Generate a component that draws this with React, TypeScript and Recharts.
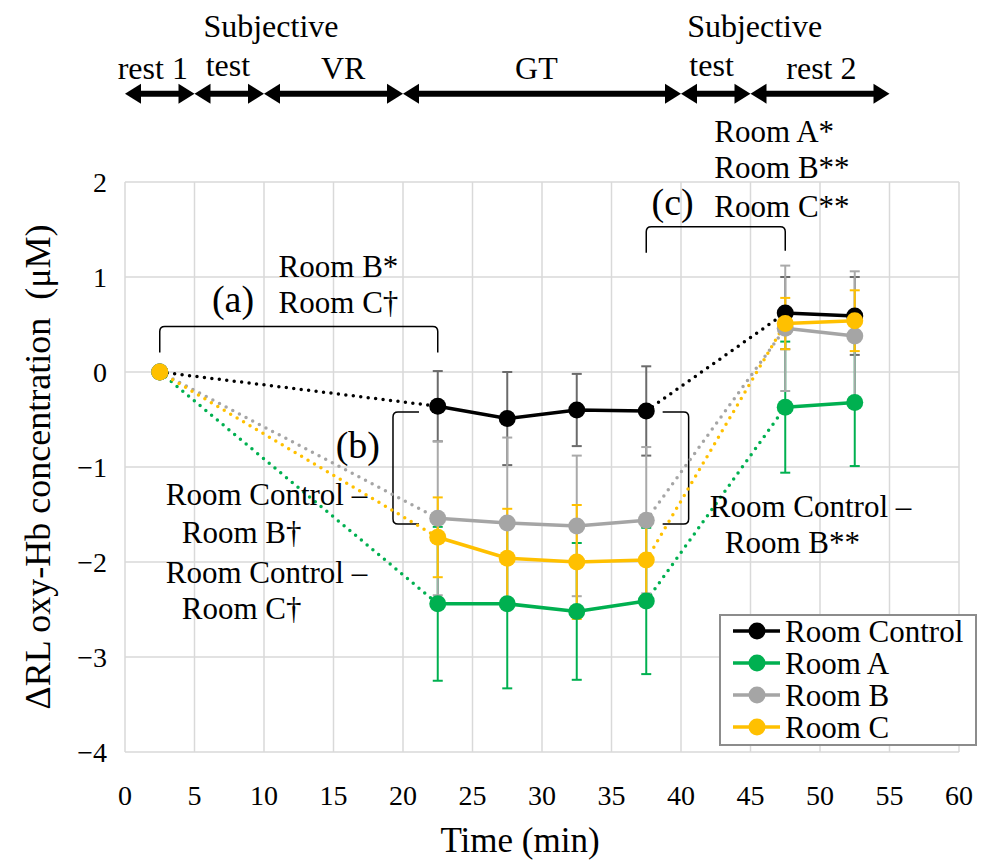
import React from 'react';
import {
  LineChart,
  Line,
  XAxis,
  YAxis,
  CartesianGrid,
  ErrorBar,
  ReferenceLine,
  ReferenceDot,
  Legend,
} from 'recharts';

const FONT = 'Liberation Serif, Times New Roman, serif';

// measurement times (min), one value per series at each
const TIMES = [2.5, 22.5, 27.5, 32.5, 37.5, 47.5, 52.5];

const ROOM_CONTROL = [0, -0.36, -0.49, -0.4, -0.41, 0.62, 0.59];
const ROOM_CONTROL_ERR = [null, 0.37, 0.49, 0.38, 0.47, 0.38, 0.41];
const ROOM_A = [0, -2.44, -2.44, -2.52, -2.41, -0.37, -0.32];
const ROOM_A_ERR = [null, 0.81, 0.89, 0.72, 0.77, 0.69, 0.67];
const ROOM_B = [0, -1.54, -1.59, -1.62, -1.56, 0.46, 0.38];
const ROOM_B_ERR = [null, 0.81, 0.9, 0.74, 0.77, 0.66, 0.68];
const ROOM_C = [0, -1.74, -1.96, -2.0, -1.98, 0.51, 0.54];
const ROOM_C_ERR = [null, 0.42, 0.52, 0.6, 0.45, 0.27, 0.32];

const X_TICKS = [0, 5, 10, 15, 20, 25, 30, 35, 40, 45, 50, 55, 60];
const Y_TICKS = [-4, -3, -2, -1, 0, 1, 2];

// experiment phases shown above the plot (min)
const PHASE_BOUNDS = [0, 5, 10, 20, 40, 45, 55];

const SERIES = [
  { key: 'ctl', name: 'Room Control', color: '#000000', errColor: '#6b6b6b', values: ROOM_CONTROL, errors: ROOM_CONTROL_ERR },
  { key: 'a', name: 'Room A', color: '#00B050', errColor: '#00B050', values: ROOM_A, errors: ROOM_A_ERR },
  { key: 'b', name: 'Room B', color: '#A5A5A5', errColor: '#A9A9A9', values: ROOM_B, errors: ROOM_B_ERR },
  { key: 'c', name: 'Room C', color: '#FFC000', errColor: '#FFC000', values: ROOM_C, errors: ROOM_C_ERR },
];

const data = TIMES.map((t, i) => {
  const row: Record<string, number | null> = { t };
  SERIES.forEach((s) => {
    const v = s.values[i];
    row[s.key] = v;
    row[s.key + 'Err'] = s.errors[i];
    row[s.key + 'Pre'] = i <= 1 ? v : null; // rest 1 -> first GT point (dotted)
    row[s.key + 'Task'] = i >= 1 && i <= 4 ? v : null;
    row[s.key + 'Post'] = i >= 4 && i <= 5 ? v : null; // GT -> rest 2 (dotted)
    row[s.key + 'Rest'] = i >= 5 ? v : null;
  });
  return row;
});

const fmtY = (v: number) => (v < 0 ? '\u2212' + Math.abs(v) : String(v));

const arrowShape = (p: any) => {
  const { x1, y1, x2 } = p;
  const h = 16;
  const w = 10;
  return (
    <g>
      <line x1={x1 + h - 2} y1={y1} x2={x2 - h + 2} y2={y1} stroke="#000" strokeWidth={6} />
      <polygon points={`${x1},${y1} ${x1 + h},${y1 - w} ${x1 + h},${y1 + w}`} fill="#000" />
      <polygon points={`${x2},${y1} ${x2 - h},${y1 - w} ${x2 - h},${y1 + w}`} fill="#000" />
    </g>
  );
};

// horizontal bracket opening downwards
const hBracket = (legL: number, legR: number) => (p: any) => {
  const { x1, y1, x2 } = p;
  const r = 5;
  return (
    <path
      d={`M${x1},${y1 + legL} L${x1},${y1 + r} Q${x1},${y1} ${x1 + r},${y1} L${x2 - r},${y1} Q${x2},${y1} ${x2},${y1 + r} L${x2},${y1 + legR}`}
      fill="none"
      stroke="#000"
      strokeWidth={1.5}
    />
  );
};

// vertical bracket, arm points right (dir 1) or left (dir -1)
const vBracket = (dir: number) => (p: any) => {
  const { x1, y1, y2 } = p;
  const top = Math.min(y1, y2);
  const bot = Math.max(y1, y2);
  const arm = 26 * dir;
  const r = 5 * dir;
  return (
    <path
      d={`M${x1 + arm},${top} L${x1 + r},${top} Q${x1},${top} ${x1},${top + 5} L${x1},${bot - 5} Q${x1},${bot} ${x1 + r},${bot} L${x1 + arm},${bot}`}
      fill="none"
      stroke="#000"
      strokeWidth={1.5}
    />
  );
};

const note = (key: string, x: number, y: number, text: string, size = 31, anchor = 'start') => (
  <ReferenceDot
    key={key}
    x={x}
    y={y}
    r={0}
    ifOverflow="visible"
    shape={(p: any) => (
      <text x={p.cx} y={p.cy} fontSize={size} fontFamily={FONT} fill="#000" textAnchor={anchor}>
        {text}
      </text>
    )}
  />
);

const LegendBox = () => (
  <svg width={258} height={132} style={{ display: 'block' }}>
    <rect x={1} y={1} width={256} height={130} fill="#fff" stroke="#8c8c8c" strokeWidth={2} />
    {SERIES.map((s, i) => {
      const cy = 17 + i * 32;
      return (
        <g key={s.key}>
          <line x1={14} y1={cy} x2={61} y2={cy} stroke={s.color} strokeWidth={3.5} />
          <circle cx={38} cy={cy} r={8.5} fill={s.color} />
          <text x={66} y={cy} dominantBaseline="central" fontSize={31} fontFamily={FONT} fill="#000">
            {s.name}
          </text>
        </g>
      );
    })}
  </svg>
);

export default function App() {
  const lines: React.ReactNode[] = [];
  SERIES.forEach((s) => {
    ['Pre', 'Post'].forEach((seg) =>
      lines.push(
        <Line
          key={s.key + seg}
          dataKey={s.key + seg}
          stroke={s.color}
          strokeWidth={3.5}
          strokeDasharray="0 7.5"
          strokeLinecap="round"
          dot={false}
          activeDot={false}
          legendType="none"
          isAnimationActive={false}
        />
      )
    );
    ['Task', 'Rest'].forEach((seg) =>
      lines.push(
        <Line
          key={s.key + seg}
          dataKey={s.key + seg}
          stroke={s.color}
          strokeWidth={3.5}
          dot={false}
          activeDot={false}
          legendType="none"
          isAnimationActive={false}
        />
      )
    );
    lines.push(
      <Line
        key={s.key}
        dataKey={s.key}
        name={s.name}
        stroke="none"
        dot={{ r: 8.5, fill: s.color, stroke: s.color, strokeWidth: 0 }}
        activeDot={false}
        isAnimationActive={false}
      >
        <ErrorBar
          dataKey={s.key + 'Err'}
          direction="y"
          width={5}
          stroke={s.errColor}
          strokeWidth={2}
          isAnimationActive={false}
        />
      </Line>
    );
  });

  const arrows = PHASE_BOUNDS.slice(0, -1).map((from, i) => (
    <ReferenceLine
      key={'ph' + i}
      segment={[
        { x: from, y: 2.93 },
        { x: PHASE_BOUNDS[i + 1], y: 2.93 },
      ]}
      ifOverflow="visible"
      shape={arrowShape}
    />
  ));

  return (
    <div style={{ position: 'absolute', left: 0, top: 0, background: '#fff', fontFamily: FONT }}>
      <LineChart width={984} height={863} data={data} margin={{ top: 182, right: 25, bottom: 51, left: 55 }}>
        <CartesianGrid stroke="#D9D9D9" strokeWidth={1.5} />
        <XAxis
          dataKey="t"
          type="number"
          domain={[0, 60]}
          ticks={X_TICKS}
          interval={0}
          allowDataOverflow
          axisLine={false}
          tickLine={false}
          tickMargin={27}
          height={60}
          tick={{ fontSize: 28, fill: '#000', fontFamily: FONT }}
          label={{
            content: () => (
              <text x={520} y={852} textAnchor="middle" fontSize={35} fontFamily={FONT} fill="#000">
                Time (min)
              </text>
            ),
          }}
        />
        <YAxis
          type="number"
          domain={[-4, 2]}
          ticks={Y_TICKS}
          interval={0}
          allowDataOverflow
          axisLine={false}
          tickLine={false}
          tickMargin={12}
          width={70}
          tickFormatter={fmtY}
          tick={{ fontSize: 28, fill: '#000', fontFamily: FONT }}
          label={{
            content: () => (
              <text
                x={38}
                y={467}
                transform="rotate(-90 38 467)"
                textAnchor="middle"
                dominantBaseline="central"
                fontSize={36}
                fontFamily={FONT}
                fill="#000"
              >
                ΔRL oxy-Hb concentration {'\u00a0'}(μM)
              </text>
            ),
          }}
        />

        {/* phase arrows and labels */}
        {arrows}
        {note('hs1', 10.5, 3.53, 'Subjective', 32, 'middle')}
        {note('ht1', 7.4, 3.12, 'test', 32, 'middle')}
        {note('hr1', 2.0, 3.08, 'rest 1', 32, 'middle')}
        {note('hvr', 15.7, 3.08, 'VR', 32, 'middle')}
        {note('hgt', 29.6, 3.08, 'GT', 32, 'middle')}
        {note('hs2', 45.3, 3.53, 'Subjective', 32, 'middle')}
        {note('ht2', 42.2, 3.12, 'test', 32, 'middle')}
        {note('hr2', 50.1, 3.08, 'rest 2', 32, 'middle')}

        {/* (a) */}
        <ReferenceLine segment={[{ x: 2.5, y: 0.48 }, { x: 22.5, y: 0.48 }]} ifOverflow="visible" shape={hBracket(26, 26)} />
        {note('a0', 7.77, 0.63, '(a)', 38, 'middle')}
        {note('a1', 11.05, 1.0, 'Room B*')}
        {note('a2', 11.05, 0.625, 'Room C\u2020')}

        {/* (b) */}
        <ReferenceLine segment={[{ x: 19.28, y: -0.42 }, { x: 19.28, y: -1.6 }]} ifOverflow="visible" shape={vBracket(1)} />
        <ReferenceLine segment={[{ x: 40.55, y: -0.42 }, { x: 40.55, y: -1.6 }]} ifOverflow="visible" shape={vBracket(-1)} />
        {note('b0', 16.75, -0.91, '(b)', 38, 'middle')}
        {note('b1', 2.93, -1.4, 'Room Control \u2013')}
        {note('b2', 4.08, -1.8, 'Room B\u2020')}
        {note('b3', 2.93, -2.22, 'Room Control \u2013')}
        {note('b4', 4.08, -2.6, 'Room C\u2020')}

        {/* (c) */}
        <ReferenceLine segment={[{ x: 37.5, y: 1.53 }, { x: 47.5, y: 1.53 }]} ifOverflow="visible" shape={hBracket(26, 24)} />
        {note('c0', 39.4, 1.65, '(c)', 38, 'middle')}
        {note('c1', 42.4, 2.42, 'Room A*')}
        {note('c2', 42.4, 2.04, 'Room B**')}
        {note('c3', 42.4, 1.63, 'Room C**')}
        {note('d1', 42.07, -1.53, 'Room Control \u2013')}
        {note('d2', 43.15, -1.9, 'Room B**')}

        {lines}

        <Legend
          layout="vertical"
          align="center"
          verticalAlign="middle"
          wrapperStyle={{ left: 719, top: 614, width: 258, height: 132 }}
          content={() => <LegendBox />}
        />
      </LineChart>
    </div>
  );
}
